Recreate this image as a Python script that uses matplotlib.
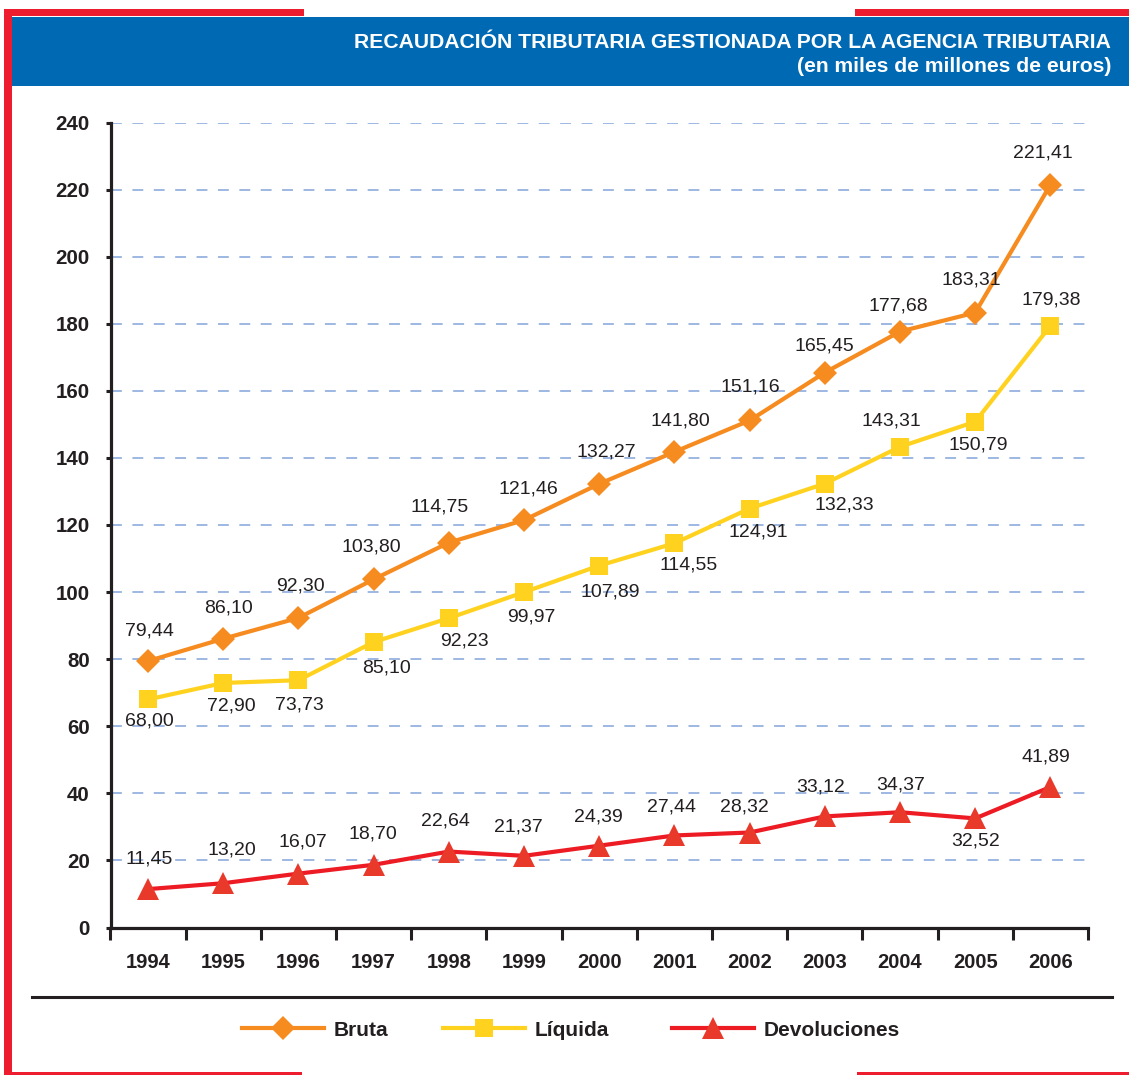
import matplotlib
matplotlib.use("Agg")
import matplotlib.pyplot as plt
import numpy as np
from matplotlib.patches import Rectangle
from matplotlib.lines import Line2D

plt.rcParams['font.family'] = ['Liberation Sans', 'DejaVu Sans']

# ---------------- data ----------------
years = [1994, 1995, 1996, 1997, 1998, 1999, 2000, 2001, 2002, 2003, 2004, 2005, 2006]
bruta = [79.44, 86.10, 92.30, 103.80, 114.75, 121.46, 132.27, 141.80, 151.16, 165.45, 177.68, 183.31, 221.41]
liquida = [68.00, 72.90, 73.73, 85.10, 92.23, 99.97, 107.89, 114.55, 124.91, 132.33, 143.31, 150.79, 179.38]
devoluciones = [11.45, 13.20, 16.07, 18.70, 22.64, 21.37, 24.39, 27.44, 28.32, 33.12, 34.37, 32.52, 41.89]
series_names = ["Bruta", "Líquida", "Devoluciones"]
y_ticks = list(range(0, 241, 20))
title_1 = "RECAUDACIÓN TRIBUTARIA GESTIONADA POR LA AGENCIA TRIBUTARIA"
title_2 = "(en miles de millones de euros)"

# label offsets (pixels: dx, dy with dy downward)
off_bruta = [(1, -30), (5, -31), (2, -32), (-2, -32), (-9, -36), (4, -31), (7, -32),
             (6, -31), (1, -33), (0, -27), (-2, -26), (-4, -33), (-8, -32)]
off_liquida = [(1, 22), (8, 23), (1, 25), (13, 26), (16, 23), (7, 25), (11, 26),
               (14, 22), (9, 23), (19, 21), (-9, -26), (3, 23), (1, -26)]
off_dev = [(1, -30), (9, -33), (4, -32), (-1, -31), (-3, -31), (-6, -29), (-1, -29),
           (-3, -28), (-5, -26), (-4, -29), (1, -27), (0, 23), (-5, -30)]

# ---------------- styles ----------------
W, H = 1129, 1075
C_ORANGE = '#f68b1f'
C_YELLOW = '#ffd21f'
C_RED_LINE = '#ed1c24'
C_RED_MARK = '#e8392b'
C_FRAME = '#ed1c2e'
C_BLUE = '#0069b4'
C_TEXT = '#231f20'
C_GRID = '#9db8e3'

fig = plt.figure(figsize=(W / 100, H / 100), dpi=100)
fig.patch.set_facecolor('white')


def fx(x):
    return x / W


def fy(y):
    return 1 - y / H


def prect(x0, y0, x1, y1, color):
    fig.add_artist(Rectangle((fx(x0), fy(y1)), fx(x1) - fx(x0), fy(y0) - fy(y1),
                             transform=fig.transFigure, facecolor=color,
                             edgecolor='none', zorder=0))


# frame pieces
prect(4, 9, 304, 16, C_FRAME)
prect(855, 9, 1129, 16, C_FRAME)
prect(4, 9, 12, 1075, C_FRAME)
prect(4, 1072, 302, 1075, C_FRAME)
prect(857, 1072, 1129, 1075, C_FRAME)
# blue header
prect(12, 17, 1129, 86, C_BLUE)
fig.text(fx(1111), fy(43), title_1, ha='right', va='center', color='white',
         fontsize=15.2, fontweight='bold')
fig.text(fx(1111), fy(66), title_2, ha='right', va='center', color='white',
         fontsize=15.2, fontweight='bold')

# bottom black separator
fig.add_artist(Line2D([fx(32), fx(1112)], [fy(997), fy(997)], transform=fig.transFigure,
                      color=C_TEXT, lw=2.2))

# ---------------- axes ----------------
left, right = 110.5, 1088
top, bottom = 122.5, 927.5
ax = fig.add_axes([fx(left), fy(bottom), fx(right) - fx(left), fy(top) - fy(bottom)])
ax.set_xlim(1993.5, 2006.5)
ax.set_ylim(0, 240)
ax.set_facecolor('none')

for s in ['top', 'right']:
    ax.spines[s].set_visible(False)
for s in ['left', 'bottom']:
    ax.spines[s].set_linewidth(2.3)
    ax.spines[s].set_color(C_TEXT)

ax.set_yticks(y_ticks)
ax.set_yticklabels([str(v) for v in y_ticks])
ax.set_xticks(np.arange(1993.5, 2007, 1.0))
ax.set_xticklabels([])
ax.set_xticks(years, minor=True)
ax.set_xticklabels([str(y) for y in years], minor=True)
ax.tick_params(axis='x', which='major', length=8.5, width=2.2, color=C_TEXT, direction='out')
ax.tick_params(axis='x', which='minor', length=0, pad=18, labelsize=14.5, labelcolor=C_TEXT)
ax.tick_params(axis='y', length=3.8, width=2.2, color=C_TEXT, pad=11, labelsize=14.8,
               labelcolor=C_TEXT)
for lab in ax.get_xticklabels(minor=True) + ax.get_yticklabels():
    lab.set_fontweight('bold')

ax.set_axisbelow(True)
ax.yaxis.grid(True, linestyle=(0, (5.6, 5.4)), linewidth=1.4, color=C_GRID)
ax.xaxis.grid(False)

l1, = ax.plot(years, bruta, color=C_ORANGE, lw=3, marker='D', ms=12.5, mfc=C_ORANGE,
              mec=C_ORANGE, mew=0, label=series_names[0], zorder=4)
l2, = ax.plot(years, liquida, color=C_YELLOW, lw=3, marker='s', ms=13, mfc=C_YELLOW,
              mec=C_YELLOW, mew=0, label=series_names[1], zorder=4)
l3, = ax.plot(years, devoluciones, color=C_RED_LINE, lw=3, marker='^', ms=16,
              mfc=C_RED_MARK, mec=C_RED_MARK, mew=0, label=series_names[2], zorder=4)


def fmt(v):
    return f"{v:.2f}".replace('.', ',')


for vals, offs in [(bruta, off_bruta), (liquida, off_liquida), (devoluciones, off_dev)]:
    for x, v, (dx, dy) in zip(years, vals, offs):
        ax.annotate(fmt(v), (x, v), xytext=(dx * 0.72, -dy * 0.72), textcoords='offset points',
                    ha='center', va='center', fontsize=14, color=C_TEXT, zorder=6)

# legend: one entry per anchor, as in the reference layout
legend_x = [242, 443, 672]
for handle, lx in zip([l1, l2, l3], legend_x):
    leg = fig.legend(handles=[handle], loc='center left',
                     bbox_to_anchor=(fx(lx), fy(1030)), bbox_transform=fig.transFigure,
                     frameon=False, handlelength=3.93, handletextpad=0.48,
                     borderpad=0, borderaxespad=0,
                     prop={'size': 15, 'weight': 'bold'})
    for t in leg.get_texts():
        t.set_color(C_TEXT)

fig.savefig('out.png', dpi=100)
